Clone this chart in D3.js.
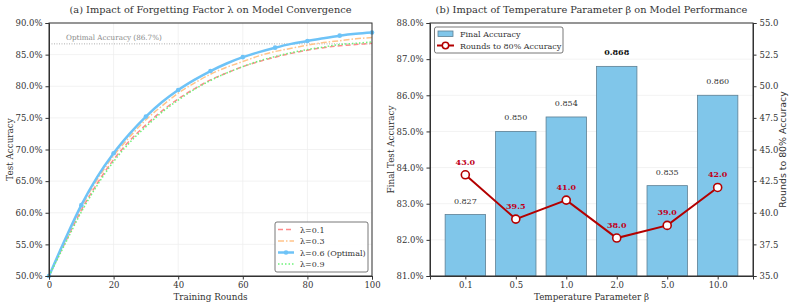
<!DOCTYPE html>
<html>
<head>
<meta charset="utf-8">
<script src="https://cdn.jsdelivr.net/npm/d3@7"></script>
<style>
  body { margin: 0; background: #fff; }
  svg text { font-family: "DejaVu Serif", serif; fill: #333; }
</style>
</head>
<body>
<div id="chart"></div>
<script>
// ---- left panel data: test accuracy (%) every 5 rounds
const rounds = [0,5,10,15,20,25,30,35,40,45,50,55,60,65,70,75,80,85,90,95,100];
const acc01 = [50,55.3,60.4,64.7,68.4,71.4,73.9,76.1,78.0,79.6,81.0,82.1,83.1,83.9,84.6,85.2,85.7,86.1,86.4,86.6,86.8];
const acc03 = [50,55.6,60.9,65.3,69.0,72.0,74.7,76.9,78.9,80.5,81.9,83.0,83.9,84.8,85.5,86.0,86.5,86.9,87.2,87.5,87.7];
const acc06 = [50,55.8,61.2,65.7,69.4,72.5,75.2,77.5,79.4,81.0,82.4,83.6,84.6,85.4,86.1,86.7,87.15,87.6,88.0,88.3,88.5];
const acc09 = [50,55.1,60.1,64.4,68.1,71.1,73.6,75.9,77.8,79.5,80.9,82.1,83.1,84.0,84.7,85.3,85.8,86.2,86.6,86.8,87.0];
const optimalAcc = 86.7;
const accTicks = [50,55,60,65,70,75,80,85,90];
const roundTicks = [0,20,40,60,80,100];

// ---- right panel data
const betas = ["0.1","0.5","1.0","2.0","5.0","10.0"];
const finalAcc = [0.827,0.850,0.854,0.868,0.835,0.860];
const roundsTo80 = [43.0,39.5,41.0,38.0,39.0,42.0];
const finalTicks = [81,82,83,84,85,86,87,88];
const roundTicksR = [35,37.5,40,42.5,45,47.5,50,52.5,55];

const svg = d3.select("#chart").append("svg")
  .attr("width", 792).attr("height", 305);

const plotTop = 23, plotBottom = 276;

// ================= panel (a) =================
const xA = d3.scaleLinear().domain([0,100]).range([49,372]);
const yA = d3.scaleLinear().domain([50,90]).range([plotBottom, plotTop]);

const gA = svg.append("g");
// grid
gA.selectAll(".gx").data(roundTicks).enter().append("line")
  .attr("x1", d => xA(d)).attr("x2", d => xA(d)).attr("y1", plotTop).attr("y2", plotBottom)
  .attr("stroke", "#ececec").attr("stroke-width", 0.7);
gA.selectAll(".gy").data(accTicks).enter().append("line")
  .attr("x1", 49).attr("x2", 372).attr("y1", d => yA(d)).attr("y2", d => yA(d))
  .attr("stroke", "#ececec").attr("stroke-width", 0.7);

// optimal line
gA.append("line")
  .attr("x1", 49).attr("x2", 372).attr("y1", yA(optimalAcc)).attr("y2", yA(optimalAcc))
  .attr("stroke", "#999").attr("stroke-width", 0.8).attr("stroke-dasharray", "1,1.5");
gA.append("text").attr("x", 66).attr("y", yA(optimalAcc) - 4)
  .style("font-size", "7.2px").style("fill", "#888")
  .text("Optimal Accuracy (" + optimalAcc.toFixed(1) + "%)");

const series = [
  { label: "λ=0.1", vals: acc01, color: "#ff8a8a", width: 1.5, dash: "5,3" },
  { label: "λ=0.3", vals: acc03, color: "#ffc48a", width: 1.5, dash: "6,2,1.5,2" },
  { label: "λ=0.6 (Optimal)", vals: acc06, color: "#6ec3f7", width: 2.5, dash: null, marker: true },
  { label: "λ=0.9", vals: acc09, color: "#6ef27a", width: 1.5, dash: "1.5,2" }
];

const lineA = d3.line().x(d => xA(d[0])).y(d => yA(d[1])).curve(d3.curveMonotoneX);
series.forEach(s => {
  const pts = rounds.map((r, i) => [r, s.vals[i]]);
  gA.append("path").datum(pts)
    .attr("d", lineA).attr("fill", "none")
    .attr("stroke", s.color).attr("stroke-width", s.width)
    .attr("stroke-dasharray", s.dash);
  if (s.marker) {
    gA.selectAll(".mk").data(pts.filter(p => p[0] % 10 === 0)).enter().append("circle")
      .attr("cx", d => xA(d[0])).attr("cy", d => yA(d[1])).attr("r", 2.3)
      .attr("fill", s.color);
  }
});

// axes
gA.append("g").attr("transform", "translate(0," + plotBottom + ")")
  .call(d3.axisBottom(xA).tickValues(roundTicks).tickSize(3.5).tickPadding(2));
gA.append("g").attr("transform", "translate(49,0)")
  .call(d3.axisLeft(yA).tickValues(accTicks).tickSize(3.5).tickPadding(3).tickFormat(d => d.toFixed(1) + "%"));
gA.append("rect").attr("x", 49).attr("y", plotTop).attr("width", 323).attr("height", plotBottom - plotTop)
  .attr("fill", "none").attr("stroke", "#333").attr("stroke-width", 1);

gA.append("text").attr("x", 210.5).attr("y", 13).attr("text-anchor", "middle")
  .style("font-size", "9.8px").text("(a) Impact of Forgetting Factor λ on Model Convergence");
gA.append("text").attr("x", 210.5).attr("y", 300).attr("text-anchor", "middle")
  .style("font-size", "8.8px").text("Training Rounds");
gA.append("text").attr("transform", "translate(13," + (plotTop + plotBottom) / 2 + ") rotate(-90)")
  .attr("text-anchor", "middle").style("font-size", "8.8px").text("Test Accuracy");

// legend (a)
const legA = gA.append("g");
legA.append("rect").attr("x", 275).attr("y", 222).attr("width", 93).attr("height", 50)
  .attr("rx", 2).attr("fill", "#fff").attr("fill-opacity", 0.85)
  .attr("stroke", "#555").attr("stroke-width", 0.8);
series.forEach((s, i) => {
  const y = 229.5 + i * 11.5;
  legA.append("line").attr("x1", 278).attr("x2", 294).attr("y1", y).attr("y2", y)
    .attr("stroke", s.color).attr("stroke-width", s.width).attr("stroke-dasharray", s.dash);
  if (s.marker) legA.append("circle").attr("cx", 286).attr("cy", y).attr("r", 2.3).attr("fill", s.color);
  legA.append("text").attr("x", 300).attr("y", y + 3).style("font-size", "8px").text(s.label);
});

// ================= panel (b) =================
const L = 430, R = 753;
const xB = d3.scalePoint().domain(betas).range([L, R]).padding(0.7);
const bw = xB.step() * 0.8;
const yB = d3.scaleLinear().domain([81,88]).range([plotBottom, plotTop]);
const yR = d3.scaleLinear().domain([35,55]).range([plotBottom, plotTop]);

const gB = svg.append("g");
gB.selectAll(".gy").data(finalTicks).enter().append("line")
  .attr("x1", L).attr("x2", R).attr("y1", d => yB(d)).attr("y2", d => yB(d))
  .attr("stroke", "#ececec").attr("stroke-width", 0.7);

gB.selectAll(".bar").data(betas).enter().append("rect")
  .attr("x", d => xB(d) - bw / 2).attr("y", (d, i) => yB(finalAcc[i] * 100))
  .attr("width", bw).attr("height", (d, i) => plotBottom - yB(finalAcc[i] * 100))
  .attr("fill", "#80c6ea").attr("stroke", "#5d7f93").attr("stroke-width", 0.8);

const best = d3.max(finalAcc);
gB.selectAll(".blab").data(betas).enter().append("text")
  .attr("x", d => xB(d)).attr("y", (d, i) => yB(finalAcc[i] * 100) - 11)
  .attr("text-anchor", "middle").style("font-size", "8px")
  .style("font-weight", (d, i) => finalAcc[i] === best ? "bold" : "normal")
  .style("fill", (d, i) => finalAcc[i] === best ? "#111" : "#333")
  .text((d, i) => finalAcc[i].toFixed(3));

const red = "#b30000";
const lineB = d3.line().x(d => xB(d[0])).y(d => yR(d[1]));
const rpts = betas.map((b, i) => [b, roundsTo80[i]]);
gB.append("path").datum(rpts).attr("d", lineB).attr("fill", "none")
  .attr("stroke", red).attr("stroke-width", 2);
gB.selectAll(".rp").data(rpts).enter().append("circle")
  .attr("cx", d => xB(d[0])).attr("cy", d => yR(d[1])).attr("r", 4)
  .attr("fill", "#fff").attr("stroke", red).attr("stroke-width", 1.6);
gB.selectAll(".rl").data(rpts).enter().append("text")
  .attr("x", d => xB(d[0])).attr("y", d => yR(d[1]) - 10)
  .attr("text-anchor", "middle").style("font-size", "8px").style("font-weight", "bold")
  .style("fill", "#c0001a").text(d => d[1].toFixed(1));

gB.append("g").attr("transform", "translate(0," + plotBottom + ")")
  .call(d3.axisBottom(xB).tickSize(3.5).tickPadding(2));
gB.append("g").attr("transform", "translate(" + L + ",0)")
  .call(d3.axisLeft(yB).tickValues(finalTicks).tickSize(3.5).tickPadding(3).tickFormat(d => d.toFixed(1) + "%"));
gB.append("g").attr("transform", "translate(" + R + ",0)")
  .call(d3.axisRight(yR).tickValues(roundTicksR).tickSize(3.5).tickPadding(3).tickFormat(d => d.toFixed(1)));
gB.append("rect").attr("x", L).attr("y", plotTop).attr("width", R - L).attr("height", plotBottom - plotTop)
  .attr("fill", "none").attr("stroke", "#333").attr("stroke-width", 1);

gB.append("text").attr("x", (L + R) / 2).attr("y", 13).attr("text-anchor", "middle")
  .style("font-size", "9.8px").text("(b) Impact of Temperature Parameter β on Model Performance");
gB.append("text").attr("x", (L + R) / 2).attr("y", 300).attr("text-anchor", "middle")
  .style("font-size", "8.8px").text("Temperature Parameter β");
gB.append("text").attr("transform", "translate(393.5," + (plotTop + plotBottom) / 2 + ") rotate(-90)")
  .attr("text-anchor", "middle").style("font-size", "8.8px").text("Final Test Accuracy");
gB.append("text").attr("transform", "translate(785.5," + (plotTop + plotBottom) / 2 + ") rotate(-90)")
  .attr("text-anchor", "middle").style("font-size", "9.4px")
  .style("font-family", "'DejaVu Sans', sans-serif").text("Rounds to 80% Accuracy");

// legend (b)
const legB = gB.append("g");
legB.append("rect").attr("x", 434.5).attr("y", 27).attr("width", 128.5).attr("height", 26)
  .attr("rx", 2).attr("fill", "#fff").attr("fill-opacity", 0.85)
  .attr("stroke", "#555").attr("stroke-width", 0.8);
legB.append("rect").attr("x", 438).attr("y", 31).attr("width", 15).attr("height", 5.5)
  .attr("fill", "#80c6ea").attr("stroke", "#5d7f93").attr("stroke-width", 0.8);
legB.append("text").attr("x", 460).attr("y", 37).style("font-size", "8px").text("Final Accuracy");
legB.append("line").attr("x1", 437).attr("x2", 454).attr("y1", 45.5).attr("y2", 45.5)
  .attr("stroke", red).attr("stroke-width", 2);
legB.append("circle").attr("cx", 445.5).attr("cy", 45.5).attr("r", 3.2)
  .attr("fill", "#fff").attr("stroke", red).attr("stroke-width", 1.5);
legB.append("text").attr("x", 460).attr("y", 48.5).style("font-size", "8px").text("Rounds to 80% Accuracy");

svg.selectAll(".tick text").style("font-size", "8.5px").style("fill", "#333");
svg.selectAll(".domain").attr("stroke", "#333");
svg.selectAll(".tick line").attr("stroke", "#333");
</script>
</body>
</html>
